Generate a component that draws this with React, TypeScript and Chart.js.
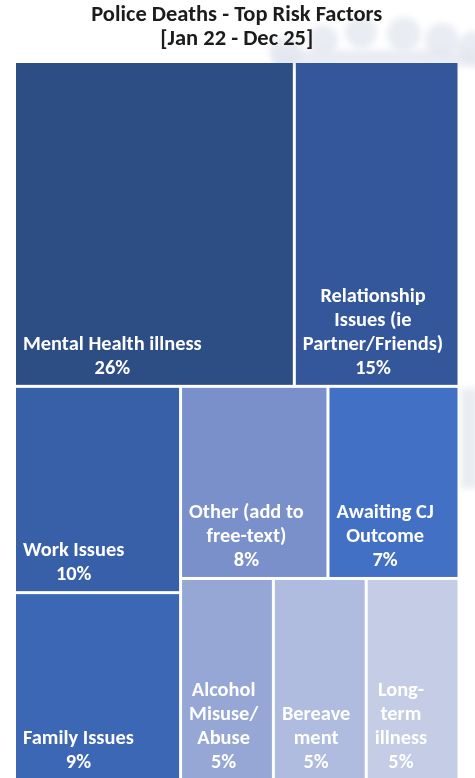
import React, { useEffect, useRef } from "react";
import { Chart, registerables } from "chart.js";

Chart.register(...registerables);

// ---- Data ----
const titleLines = ["Police Deaths - Top Risk Factors", "[Jan 22 - Dec 25]"];
const categoryLines: string[][] = [
  ["Mental Health illness"],
  ["Relationship", "Issues (ie", "Partner/Friends)"],
  ["Work Issues"],
  ["Family Issues"],
  ["Other (add to", "free-text)"],
  ["Awaiting CJ", "Outcome"],
  ["Alcohol", "Misuse/", "Abuse"],
  ["Bereave", "ment"],
  ["Long-", "term", "illness"],
];
const values = [26.0, 15.3, 9.8, 8.9, 8.1, 7.2, 5.35, 5.35, 5.35];
const cellColors = [
  "#2d4d85",
  "#33579a",
  "#3860a8",
  "#3c67b5",
  "#7990cb",
  "#4270c4",
  "#96a7d6",
  "#afbbdf",
  "#c4cce6",
];
// Treemap strip plan: how many items per strip, and strip orientation
const groupSizes = [2, 2, 2, 3];
const groupDirections = ["row", "col", "row", "row"];

const percentLabels = values.map((v) => Math.round(v) + "%");

type R = { x0: number; x1: number; y0: number; y1: number };

function computeLayout(vals: number[], sizes: number[], dirs: string[]): R[] {
  let x0 = 0, y0 = 0;
  const x1 = 1, y1 = 1;
  let idx = 0;
  const rects: R[] = [];
  let remaining = vals.reduce((a, b) => a + b, 0);
  sizes.forEach((n, g) => {
    const items = vals.slice(idx, idx + n);
    const s = items.reduce((a, b) => a + b, 0);
    const frac = g === sizes.length - 1 ? 1 : s / remaining;
    if (dirs[g] === "row") {
      const h = (y1 - y0) * frac;
      let cx = x0;
      items.forEach((v) => {
        const w = ((x1 - x0) * v) / s;
        rects.push({ x0: cx, x1: cx + w, y0, y1: y0 + h });
        cx += w;
      });
      y0 += h;
    } else {
      const w = (x1 - x0) * frac;
      let cy = y0;
      items.forEach((v) => {
        const h = ((y1 - y0) * v) / s;
        rects.push({ x0, x1: x0 + w, y0: cy, y1: cy + h });
        cy += h;
      });
      x0 += w;
    }
    remaining -= s;
    idx += n;
  });
  return rects;
}

const rects = computeLayout(values, groupSizes, groupDirections);

// faint decorative background watermark
const watermarkPlugin = {
  id: "watermark",
  beforeDraw(chart: any) {
    const ctx = chart.ctx;
    const W = chart.width;
    const ca = chart.chartArea;
    ctx.save();
    ctx.fillStyle = "#ffffff";
    ctx.fillRect(0, 0, W, chart.height);
    ctx.filter = "blur(3px)";
    ctx.fillStyle = "rgba(226,230,237,0.75)";
    const bumps = [
      [W * 0.6, 52, 16],
      [W * 0.68, 40, 15],
      [W * 0.76, 32, 16],
      [W * 0.85, 34, 17],
      [W * 0.93, 40, 17],
      [W * 1.0, 48, 17],
    ];
    ctx.beginPath();
    bumps.forEach(([x, y, r]) => {
      ctx.moveTo(x + r, y);
      ctx.arc(x, y, r, 0, Math.PI * 2);
    });
    ctx.fill();
    ctx.fillRect(W * 0.58, 50, W * 0.42, 16);
    ctx.fillStyle = "rgba(228,231,237,0.8)";
    ctx.fillRect(ca.right + 2, ca.top + (ca.bottom - ca.top) * 0.455, W - ca.right, 100);
    ctx.restore();
  },
};

const LABEL_FONT = "bold 20.4px Carlito, Calibri, Lato, sans-serif";

const treemapPlugin = {
  id: "treemapCells",
  afterDatasetsDraw(chart: any) {
    const ctx = chart.ctx;
    const xs = chart.scales.x;
    const ys = chart.scales.y;
    const gap = 1.5;
    ctx.save();
    rects.forEach((r, i) => {
      const left = xs.getPixelForValue(r.x0) + gap;
      const right = xs.getPixelForValue(r.x1) - gap;
      const top = ys.getPixelForValue(r.y0) + gap;
      const bottom = ys.getPixelForValue(r.y1) - gap;
      ctx.fillStyle = cellColors[i];
      ctx.fillRect(left, top, right - left, bottom - top);
    });
    ctx.font = LABEL_FONT;
    ctx.fillStyle = "#ffffff";
    ctx.textAlign = "center";
    ctx.textBaseline = "alphabetic";
    const lineH = 24;
    rects.forEach((r, i) => {
      const left = xs.getPixelForValue(r.x0) + gap;
      const bottom = ys.getPixelForValue(r.y1) - gap;
      const lines = [...categoryLines[i], percentLabels[i]];
      const blockW = Math.max(...lines.map((l) => ctx.measureText(l).width));
      const cx = left + 7 + blockW / 2;
      const lastBase = bottom - 11;
      lines.forEach((l, k) => {
        ctx.fillText(l, cx, lastBase - (lines.length - 1 - k) * lineH);
      });
    });
    ctx.restore();
  },
};

export default function App() {
  const ref = useRef<HTMLCanvasElement>(null);
  useEffect(() => {
    if (!ref.current) return;
    const chart = new Chart(ref.current, {
      type: "scatter",
      data: {
        datasets: [
          {
            label: "cells",
            data: rects.map((r) => ({ x: (r.x0 + r.x1) / 2, y: (r.y0 + r.y1) / 2 })),
            pointRadius: 0,
            pointHoverRadius: 0,
          },
        ],
      },
      options: {
        animation: false,
        responsive: false,
        devicePixelRatio: 1,
        layout: { padding: { left: 14.5, right: 16, top: 0, bottom: 0 } },
        scales: {
          x: { type: "linear", min: 0, max: 1, display: false },
          y: { type: "linear", min: 0, max: 1, reverse: true, display: false },
        },
        plugins: {
          legend: { display: false },
          tooltip: { enabled: false },
          title: {
            display: true,
            text: titleLines,
            color: "#1c1c1c",
            font: { family: "Carlito, Calibri, Lato, sans-serif", size: 22.5, weight: "bold", lineHeight: "24px" },
            padding: { top: 3.5, bottom: 10 },
          },
        },
      },
      plugins: [watermarkPlugin, treemapPlugin],
    });
    return () => chart.destroy();
  }, []);
  return (
    <div
      style={{
        position: "fixed",
        left: 0,
        top: 0,
        width: 475,
        height: 778,
        overflow: "hidden",
        background: "#fff",
      }}
    >
      <canvas ref={ref} width={475} height={780} style={{ width: 475, height: 780, display: "block" }} />
    </div>
  );
}
